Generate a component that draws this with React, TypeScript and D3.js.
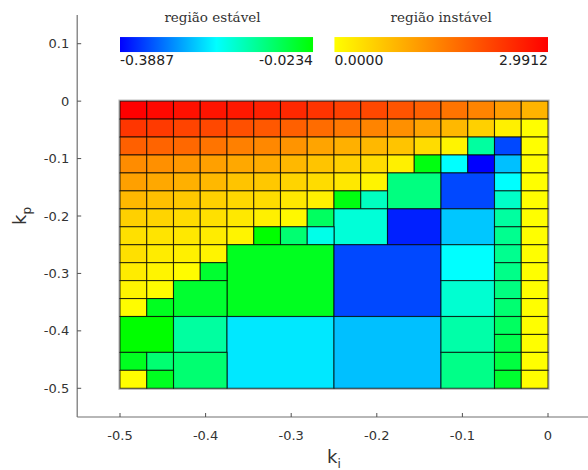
import React from "react";
import * as d3 from "d3";

// Grid cells of the quadtree map: [column index, row index (from kp=0 downward), span in cells, value]
// positive value -> unstable region (0 .. 2.9912), negative -> stable region (-0.3887 .. -0.0234)
const GRID_N = 16;
const STEP = 1 / 32;
const KI_MIN = -0.5;

const row0 = [2.99, 2.9, 2.8, 2.76, 2.71, 2.62, 2.52, 2.38, 2.24, 2.15, 2.01, 1.87, 1.63, 1.44, 1.16, 0.88];
const row1 = [2.36, 2.31, 2.19, 2.15, 2.05, 1.96, 1.87, 1.72, 1.58, 1.44, 1.3, 1.07, 0.83, 0.55, 0.18, 0.01];
const row2 = [1.87, 1.82, 1.77, 1.63, 1.49, 1.4, 1.26, 1.07, 0.93, 0.83, 0.69, 0.41, 0.13, -0.138, -0.337, 0.01];
const row3 = [1.35, 1.3, 1.21, 1.11, 1.02, 0.97, 0.83, 0.69, 0.55, 0.41, 0.18, -0.035, -0.206, -0.3887, -0.251, 0.01];

// remaining cells as [col, row, span, value]
const otherCells: [number, number, number, number][] = [
  // row 4
  [0, 4, 1, 1.11], [1, 4, 1, 1.02], [2, 4, 1, 0.93], [3, 4, 1, 0.83], [4, 4, 1, 0.69],
  [5, 4, 1, 0.65], [6, 4, 1, 0.5], [7, 4, 1, 0.41], [8, 4, 1, 0.27], [9, 4, 1, 0.13],
  [10, 4, 2, -0.115], [12, 4, 2, -0.337], [14, 4, 1, -0.206], [15, 4, 1, 0.01],
  // row 5
  [0, 5, 1, 0.83], [1, 5, 1, 0.74], [2, 5, 1, 0.65], [3, 5, 1, 0.55], [4, 5, 1, 0.46],
  [5, 5, 1, 0.41], [6, 5, 1, 0.27], [7, 5, 1, 0.18], [8, 5, 1, -0.035], [9, 5, 1, -0.161],
  [14, 5, 1, -0.167], [15, 5, 1, 0.01],
  // row 6
  [0, 6, 1, 0.55], [1, 6, 1, 0.5], [2, 6, 1, 0.41], [3, 6, 1, 0.36], [4, 6, 1, 0.27],
  [5, 6, 1, 0.18], [6, 6, 1, 0.08], [7, 6, 1, -0.092], [8, 6, 2, -0.178], [10, 6, 2, -0.366],
  [12, 6, 2, -0.246], [14, 6, 1, -0.138], [15, 6, 1, 0.01],
  // row 7
  [0, 7, 1, 0.36], [1, 7, 1, 0.32], [2, 7, 1, 0.27], [3, 7, 1, 0.22], [4, 7, 1, 0.13],
  [5, 7, 1, -0.0234], [6, 7, 1, -0.104], [7, 7, 1, -0.19], [14, 7, 1, -0.126], [15, 7, 1, 0.01],
  // row 8
  [0, 8, 1, 0.36], [1, 8, 1, 0.22], [2, 8, 1, 0.18], [3, 8, 1, 0.13],
  [4, 8, 4, -0.046], [8, 8, 4, -0.337], [12, 8, 2, -0.206], [14, 8, 1, -0.126], [15, 8, 1, 0.01],
  // row 9
  [0, 9, 1, 0.22], [1, 9, 1, 0.13], [2, 9, 1, 0.04], [3, 9, 1, -0.058], [14, 9, 1, -0.121], [15, 9, 1, 0.01],
  // row 10
  [0, 10, 1, 0.13], [1, 10, 1, 0.04], [2, 10, 2, -0.058], [12, 10, 2, -0.173], [14, 10, 1, -0.115], [15, 10, 1, 0.01],
  // row 11
  [0, 11, 1, 0.03], [1, 11, 1, -0.046], [14, 11, 1, -0.104], [15, 11, 1, 0.01],
  // row 12
  [0, 12, 2, -0.0234], [2, 12, 2, -0.138], [4, 12, 4, -0.2225], [8, 12, 4, -0.251],
  [12, 12, 2, -0.144], [14, 12, 1, -0.092], [15, 12, 1, 0.01],
  // row 13
  [14, 13, 1, -0.081], [15, 13, 1, 0.01],
  // row 14
  [0, 14, 1, -0.046], [1, 14, 1, -0.104], [2, 14, 2, -0.104], [12, 14, 2, -0.121], [14, 14, 1, -0.069], [15, 14, 1, 0.01],
  // row 15
  [0, 15, 1, 0.01], [1, 15, 1, -0.046], [14, 15, 1, -0.058], [15, 15, 1, 0.01],
];

const STABLE_MIN = -0.3887;
const STABLE_MAX = -0.0234;
const UNSTABLE_MIN = 0;
const UNSTABLE_MAX = 2.9912;
const stableLabels = ["-0.3887", "-0.0234"];
const unstableLabels = ["0.0000", "2.9912"];
const kiTicks = [-0.5, -0.4, -0.3, -0.2, -0.1, 0];
const kpTicks = [-0.5, -0.4, -0.3, -0.2, -0.1, 0, 0.1];

const W = 588;
const H = 470;

const x = d3.scaleLinear().domain([-0.55, 0.05]).range([77.2, 590.8]);
const y = d3.scaleLinear().domain([-0.55, 0.15]).range([417, 15]);

const stableScale = d3
  .scaleLinear<string>()
  .domain([STABLE_MIN, (STABLE_MIN + STABLE_MAX) / 2, STABLE_MAX])
  .range(["#0000ff", "#00ffff", "#00ff00"])
  .clamp(true);
const unstableScale = d3
  .scaleLinear<string>()
  .domain([UNSTABLE_MIN, UNSTABLE_MAX])
  .range(["#ffff00", "#ff0000"])
  .clamp(true);

const colorOf = (v: number) => (v < 0 ? stableScale(v) : unstableScale(v));

const fmt = (v: number) => (v === 0 ? "0" : d3.format(".1f")(v).replace("−", "-"));

export default function App() {
  const cells: { col: number; row: number; span: number; v: number }[] = [];
  [row0, row1, row2, row3].forEach((r, ri) =>
    r.forEach((v, ci) => cells.push({ col: ci, row: ri, span: 1, v }))
  );
  otherCells.forEach(([col, row, span, v]) => cells.push({ col, row, span, v }));

  const gx0 = x(KI_MIN);
  const gx1 = x(KI_MIN + GRID_N * STEP);
  const gy0 = y(0);
  const gy1 = y(-GRID_N * STEP);

  const font = "'DejaVu Sans', sans-serif";
  const cbY0 = y(0.1116);
  const cbY1 = y(0.0855);
  const sb0 = x(-0.5);
  const sb1 = x(-0.2745);
  const ub0 = x(-0.2495);
  const ub1 = x(0);

  return (
    <svg
      width={W}
      height={H}
      style={{ position: "absolute", left: 0, top: 0, background: "#fff" }}
    >
      <defs>
        <linearGradient id="gStable" x1="0" x2="1" y1="0" y2="0">
          <stop offset="0%" stopColor={stableScale(STABLE_MIN)} />
          <stop offset="50%" stopColor={stableScale((STABLE_MIN + STABLE_MAX) / 2)} />
          <stop offset="100%" stopColor={stableScale(STABLE_MAX)} />
        </linearGradient>
        <linearGradient id="gUnstable" x1="0" x2="1" y1="0" y2="0">
          <stop offset="0%" stopColor={unstableScale(UNSTABLE_MIN)} />
          <stop offset="100%" stopColor={unstableScale(UNSTABLE_MAX)} />
        </linearGradient>
      </defs>

      {/* frame around grid */}
      <rect
        x={gx0 - 1}
        y={gy0 - 1}
        width={gx1 - gx0 + 2}
        height={gy1 - gy0 + 2}
        fill="none"
        stroke="#bbb"
        strokeWidth={1.2}
      />

      {cells.map((c, i) => {
        const ki0 = KI_MIN + c.col * STEP;
        const kpTop = -c.row * STEP;
        const px0 = x(ki0);
        const px1 = x(ki0 + c.span * STEP);
        const py0 = y(kpTop);
        const py1 = y(kpTop - c.span * STEP);
        return (
          <rect
            key={i}
            x={px0}
            y={py0}
            width={px1 - px0}
            height={py1 - py0}
            fill={colorOf(c.v)}
            stroke="#000"
            strokeOpacity={0.72}
            strokeWidth={1.1}
          />
        );
      })}

      {/* axes */}
      <line x1={x(-0.55)} x2={x(-0.55)} y1={y(0.15)} y2={y(-0.55)} stroke="#707070" strokeWidth={1.2} />
      <line x1={x(-0.55)} x2={x(0.05)} y1={y(-0.55)} y2={y(-0.55)} stroke="#707070" strokeWidth={1.2} />
      {kpTicks.map((t) => (
        <g key={"yt" + t}>
          <line x1={x(-0.55)} x2={x(-0.55) + 4} y1={y(t)} y2={y(t)} stroke="#505050" strokeWidth={1} />
          <text
            x={x(-0.55) - 8}
            y={y(t)}
            dy="0.35em"
            textAnchor="end"
            fontFamily={font}
            fontSize={13}
            fill="#333"
          >
            {fmt(t)}
          </text>
        </g>
      ))}
      {kiTicks.map((t) => (
        <g key={"xt" + t}>
          <line x1={x(t)} x2={x(t)} y1={y(-0.55)} y2={y(-0.55) - 4} stroke="#505050" strokeWidth={1} />
          <text
            x={x(t)}
            y={y(-0.55) + 23}
            textAnchor="middle"
            fontFamily={font}
            fontSize={13}
            fill="#333"
          >
            {fmt(t)}
          </text>
        </g>
      ))}

      {/* axis labels */}
      <text x={(x(-0.55) + x(0.05)) / 2} y={463} textAnchor="middle" fontFamily={font} fontSize={18} fill="#333">
        k<tspan fontSize={12} dy={5}>i</tspan>
      </text>
      <text
        transform={`translate(26, ${(y(0.15) + y(-0.55)) / 2}) rotate(-90)`}
        textAnchor="middle"
        fontFamily={font}
        fontSize={18}
        fill="#333"
      >
        k<tspan fontSize={12} dy={5}>p</tspan>
      </text>

      {/* colorbars */}
      <rect x={sb0} y={cbY0} width={sb1 - sb0} height={cbY1 - cbY0} fill="url(#gStable)" />
      <rect x={ub0} y={cbY0} width={ub1 - ub0} height={cbY1 - cbY0} fill="url(#gUnstable)" />
      <text x={(sb0 + sb1) / 2 - 4} y={22} textAnchor="middle" fontFamily="'DejaVu Serif', serif" fontSize={13.5} fill="#333">
        região estável
      </text>
      <text x={(ub0 + ub1) / 2} y={22} textAnchor="middle" fontFamily="'DejaVu Serif', serif" fontSize={13.5} fill="#333">
        região instável
      </text>
      <text x={sb0} y={65} fontFamily={font} fontSize={14} fill="#222">{stableLabels[0]}</text>
      <text x={sb1} y={65} textAnchor="end" fontFamily={font} fontSize={14} fill="#222">{stableLabels[1]}</text>
      <text x={ub0} y={65} fontFamily={font} fontSize={14} fill="#222">{unstableLabels[0]}</text>
      <text x={ub1} y={65} textAnchor="end" fontFamily={font} fontSize={14} fill="#222">{unstableLabels[1]}</text>
    </svg>
  );
}
